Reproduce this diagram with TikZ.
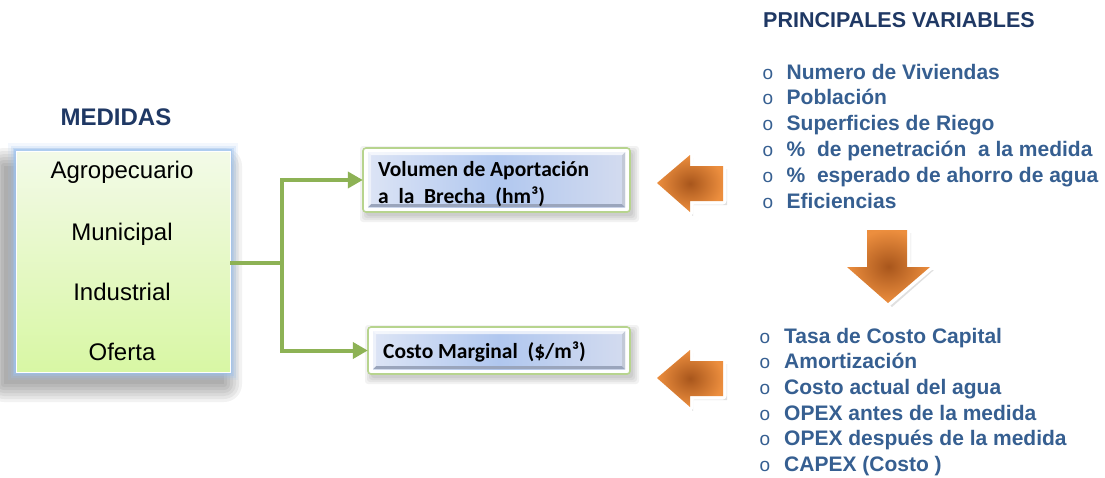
\documentclass[tikz,border=0pt]{standalone}
\usepackage{fontspec}
\setmainfont{Liberation Sans}
\newfontfamily\calfont{Carlito}
\usetikzlibrary{arrows.meta}
\definecolor{navy}{HTML}{1F3864}
\definecolor{listblue}{HTML}{365F91}
\definecolor{linkgreen}{HTML}{8DB255}
\definecolor{glowblue}{HTML}{9DC3F0}
\definecolor{orangeA}{HTML}{EC8E3E}
\definecolor{orangeB}{HTML}{A8561C}
\definecolor{greenTop}{HTML}{F3FAE8}
\definecolor{greenBot}{HTML}{D8F7A4}
\definecolor{frameGreen}{HTML}{B7D48E}
\definecolor{bevelL}{HTML}{DCE4F5}
\definecolor{bevelM}{HTML}{B0C7EF}
\definecolor{bevelR}{HTML}{D3DBEF}
\definecolor{bevelDark}{HTML}{9AA5BC}
\tikzset{
  headline/.style={font=\fontsize{21.5}{24}\selectfont\bfseries, text=navy, inner sep=0pt, anchor=base west},
  sector/.style={font=\fontsize{24}{28}\selectfont, text=black, inner sep=0pt, anchor=base},
  boxtext/.style={font=\calfont\fontsize{21.5}{27}\selectfont\bfseries, text=black, inner sep=0pt, align=left, anchor=west},
  item/.style={font=\fontsize{21}{24}\selectfont\bfseries, text=listblue, inner sep=0pt, anchor=base west},
  bullet/.style={font=\fontsize{19}{20}\selectfont, text=listblue, inner sep=0pt, anchor=base},
  link/.style={draw=linkgreen, line width=4pt, line join=miter},
  linkarrow/.style={link, -{Triangle[length=15pt,width=16pt]}},
  bigarrow/.style={shading=radial, inner color=orangeB, outer color=orangeA},
}
\begin{document}
\begin{tikzpicture}[x=1pt,y=-1pt]
\useasboundingbox (0,0) rectangle (1105,477);
\fill[white] (0,0) rectangle (1105,477);

% ---- sector box: soft shadow, blue glow, green gradient ----
\foreach \d in {0,3,...,18}
  \fill[black, opacity=0.05, rounded corners=\d] (4-\d,166-\d) rectangle (224+\d,384+\d);
\foreach \w/\o in {16/0.12,11/0.2,7/0.35,4/0.55}
  \draw[glowblue, line width=\w pt, opacity=\o] (16,151) rectangle (230,372);
\node (med) [minimum width=214pt, minimum height=221pt, inner sep=0pt,
  top color=greenTop, bottom color=greenBot, draw=white, line width=0.6pt] at (123,261.5) {};

\node (medt) [headline, font=\fontsize{24}{28}\selectfont\bfseries, anchor=base] at (116,125) {MEDIDAS};
\node (agro) [sector] at (122,178) {Agropecuario};
\node (muni) [sector] at (122,240) {Municipal};
\node (indu) [sector] at (122,300) {Industrial};
\node (ofer) [sector] at (122,360) {Oferta};

% ---- result boxes with bevel ----
\foreach \xa/\ya/\xb/\yb in {363/148/630/212, 368/327/630/374}{
  \foreach \d in {0,2,4,6}
    \fill[black, opacity=0.05, rounded corners=3] (\xa+3-\d,\ya+4-\d) rectangle (\xb+3+\d,\yb+4+\d);
  \fill[white, draw=frameGreen, line width=1.6pt, rounded corners=3] (\xa,\ya) rectangle (\xb,\yb);
  \shade[left color=bevelL, right color=bevelR, middle color=bevelM] (\xa+5,\ya+4) rectangle (\xb-5,\yb-5);
  \fill[bevelDark] (\xa+5,\yb-5) -- (\xb-5,\yb-5) -- (\xb-8,\yb-8) -- (\xa+8,\yb-8) -- cycle;
  \fill[bevelDark!60] (\xb-5,\ya+4) -- (\xb-5,\yb-5) -- (\xb-8,\yb-8) -- (\xb-8,\ya+7) -- cycle;
  \fill[white, opacity=0.7] (\xa+5,\ya+4) -- (\xb-5,\ya+4) -- (\xb-8,\ya+7) -- (\xa+8,\ya+7) -- cycle;
  \fill[white, opacity=0.5] (\xa+5,\ya+4) -- (\xa+8,\ya+7) -- (\xa+8,\yb-8) -- (\xa+5,\yb-5) -- cycle;
}
\node (vol) [inner sep=0pt, minimum width=267pt, minimum height=64pt] at (496.5,180) {};
\node (cm)  [inner sep=0pt, minimum width=262pt, minimum height=47pt] at (499,350.5) {};
\node (volt) [boxtext] at (378,184) {Volumen de Aportación\\a\ \ la\ \ Brecha\ \ (hm³)};
\node (cmt)  [boxtext] at (383,352) {Costo Marginal\ \ (\$/m³)};

% ---- green connectors ----
\coordinate (split) at (282,263);
\draw[link] (med.east |- split) -- (split);
\draw[linkarrow] (split) |- (vol.west);
\draw[linkarrow] (split) |- (cm.west);

% ---- orange block arrows ----
\foreach \cy in {183,378}{
  \fill[black, opacity=0.12] (660,\cy+3) -- (693,\cy-25) -- (693,\cy-14) -- (727,\cy-14) -- (727,\cy+22) -- (693,\cy+22) -- (693,\cy+33) -- cycle;
  \draw[white, line width=7pt, line join=round] (657,\cy) -- (690,\cy-28) -- (690,\cy-17) -- (723,\cy-17) -- (723,\cy+18) -- (690,\cy+18) -- (690,\cy+29) -- cycle;
  \path[bigarrow] (657,\cy) -- (690,\cy-28) -- (690,\cy-17) -- (723,\cy-17) -- (723,\cy+18) -- (690,\cy+18) -- (690,\cy+29) -- cycle;
}
\node (larr1) [inner sep=0pt, minimum size=2pt] at (690,183) {};
\node (larr2) [inner sep=0pt, minimum size=2pt] at (690,378) {};
% downward arrow between the two lists
\fill[black, opacity=0.12] (871,233) -- (911,233) -- (911,270) -- (934,270) -- (892,307) -- (851,270) -- (871,270) -- cycle;
\draw[white, line width=7pt, line join=round] (867,230) -- (907,230) -- (907,267) -- (930,267) -- (888,303) -- (847,267) -- (867,267) -- cycle;
\path[bigarrow] (867,230) -- (907,230) -- (907,267) -- (930,267) -- (888,303) -- (847,267) -- (867,267) -- cycle;
\node (darr) [inner sep=0pt, minimum size=2pt] at (888,262) {};

% ---- variable lists ----
\node (pv) [headline] at (763,27) {PRINCIPALES VARIABLES};
\foreach \t [count=\i from 0] in {Numero de Viviendas, Población, Superficies de Riego,
    {\%\ \ de penetración\ \ a la medida}, {\%\ \ esperado de ahorro de agua}, Eficiencias}{
  \node (bA\i) [bullet] at (768,79+25.8*\i) {o};
  \node (vA\i) [item] at (786.5,79+25.8*\i) {\t};
}
\foreach \t [count=\i from 0] in {Tasa de Costo Capital, Amortización, Costo actual del agua,
    OPEX antes de la medida, OPEX después de la medida, {CAPEX (Costo )}}{
  \node (bB\i) [bullet] at (765,343+25.7*\i) {o};
  \node (vB\i) [item] at (784,343+25.7*\i) {\t};
}
\end{tikzpicture}
\end{document}
